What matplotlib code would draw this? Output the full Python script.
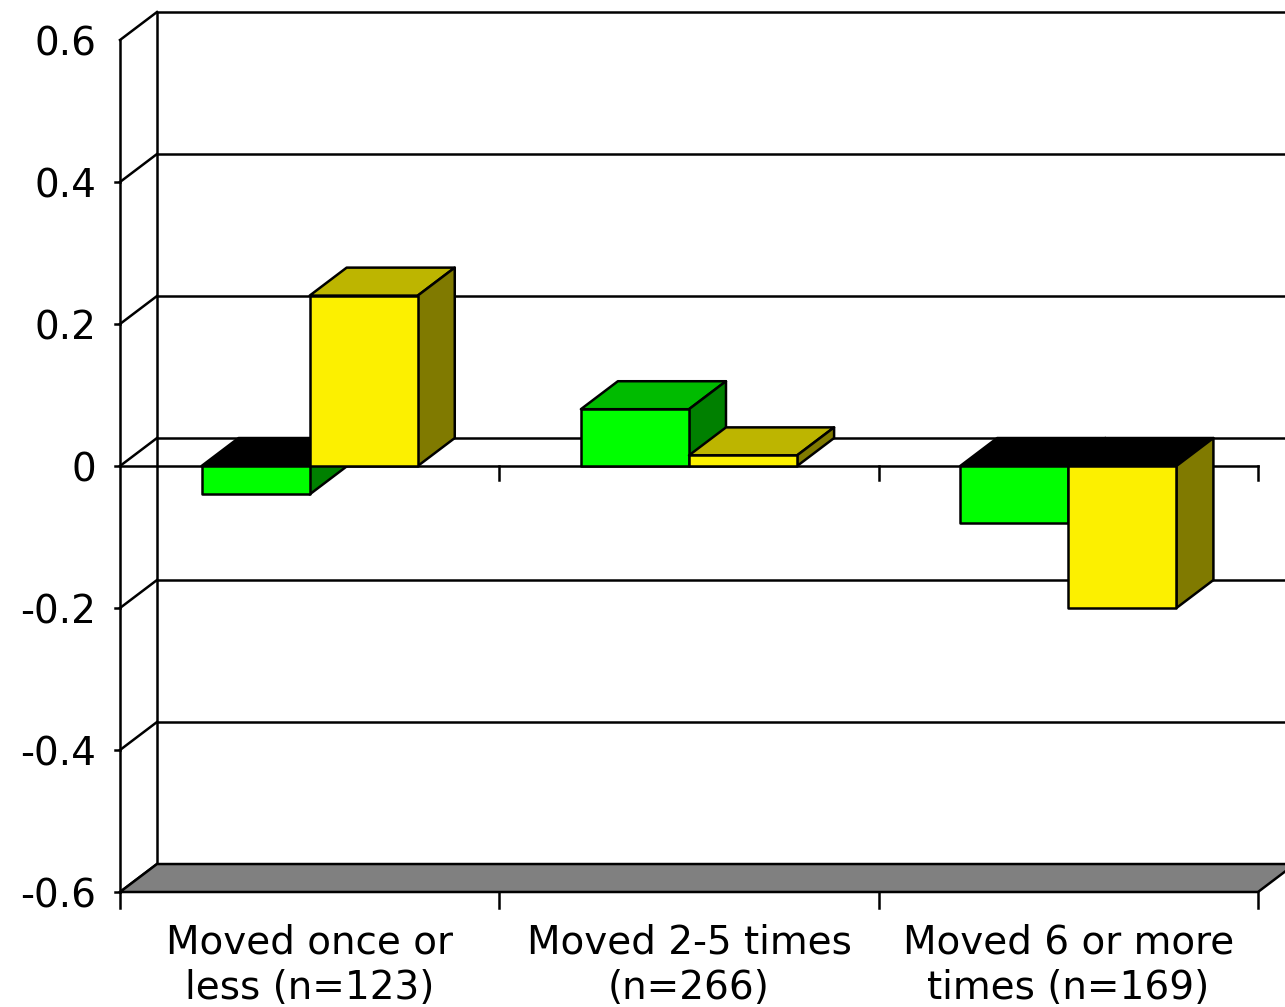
import matplotlib
matplotlib.use("Agg")
import matplotlib.pyplot as plt
from matplotlib.patches import Polygon

categories = ["Moved once or\nless (n=123)", "Moved 2-5 times\n(n=266)",
              "Moved 6 or more\ntimes (n=169)"]
green_vals = [-0.04, 0.08, -0.08]
yellow_vals = [0.24, 0.015, -0.20]
yticks = [-0.6, -0.4, -0.2, 0.0, 0.2, 0.4, 0.6]
ytick_labels = ["-0.6", "-0.4", "-0.2", "0", "0.2", "0.4", "0.6"]

# pseudo-3d depth, in data units (x: categories, y: values)
DX, DY = 0.0975, 0.0394
BAR_W = 0.285
LW = 1.8
FS = 28

series = [
    (green_vals, "#00FF00", "#00BB00", "#008000", -BAR_W),
    (yellow_vals, "#FCF000", "#BDB500", "#807A00", 0.0),
]


def poly(ax, pts, fc, z):
    ax.add_patch(Polygon(pts, closed=True, facecolor=fc, edgecolor="black",
                         lw=LW, joinstyle="round", zorder=z, clip_on=False))


def main():
    fig = plt.figure(figsize=(12.85, 10.07), dpi=100)
    ax = fig.add_axes([120 / 1285, 115 / 1007, 1165 / 1285, 880 / 1007])
    ax.set_xlim(0, 1165 / 379.33)
    ax.set_ylim(-0.6, -0.6 + 880 / 710)
    ax.axis("off")
    xmax = ax.get_xlim()[1]
    ymin, ymax = yticks[0], yticks[-1]

    # back wall gridlines and left wall
    for v in yticks:
        ax.plot([DX, xmax], [v + DY, v + DY], color="black", lw=LW, zorder=1,
                clip_on=False)
        ax.plot([0, DX], [v, v + DY], color="black", lw=LW, zorder=1,
                clip_on=False)
    ax.plot([DX, DX], [ymin + DY, ymax + DY], color="black", lw=LW, zorder=1)
    ax.plot([0, 0], [ymin, ymax], color="black", lw=LW, zorder=1,
            clip_on=False)

    # y ticks and labels
    for v, lab in zip(yticks, ytick_labels):
        if v < ymax:
            ax.plot([-0.014, 0], [v, v], color="black", lw=LW, clip_on=False)
        ax.text(-0.062, v, lab, ha="right", va="center_baseline",
                fontsize=FS, clip_on=False)

    # floor
    n = len(categories)
    poly(ax, [(0, ymin), (n, ymin), (n + DX, ymin + DY), (DX, ymin + DY)],
         "#808080", 2)

    # zero line and category ticks
    ax.plot([0, n], [0, 0], color="black", lw=LW, zorder=2, clip_on=False)
    for i in range(n + 1):
        ax.plot([i, i], [ymin, ymin - 0.022], color="black", lw=LW,
                clip_on=False)
        if i > 0:
            ax.plot([i, i], [0, -0.02], color="black", lw=LW, zorder=2,
                    clip_on=False)

    # bars
    z = 3
    for i in range(n):
        c = i + 0.5
        for vals, front, top, side, off in series:
            v = vals[i]
            x0, x1 = c + off, c + off + BAR_W
            lo, hi = min(v, 0), max(v, 0)
            cap = top if v >= 0 else "black"
            poly(ax, [(x0, hi), (x1, hi), (x1 + DX, hi + DY), (x0 + DX, hi + DY)],
                 cap, z)
            poly(ax, [(x1, lo), (x1 + DX, lo + DY), (x1 + DX, hi + DY), (x1, hi)],
                 side, z)
            poly(ax, [(x0, lo), (x1, lo), (x1, hi), (x0, hi)], front, z)
            z += 1

    # category labels
    for i, lab in enumerate(categories):
        ax.text(i + 0.5, ymin - 0.045, lab, ha="center", va="top",
                fontsize=FS, linespacing=1.22, clip_on=False)

    fig.savefig("out.png", dpi=100)


if __name__ == "__main__":
    main()
